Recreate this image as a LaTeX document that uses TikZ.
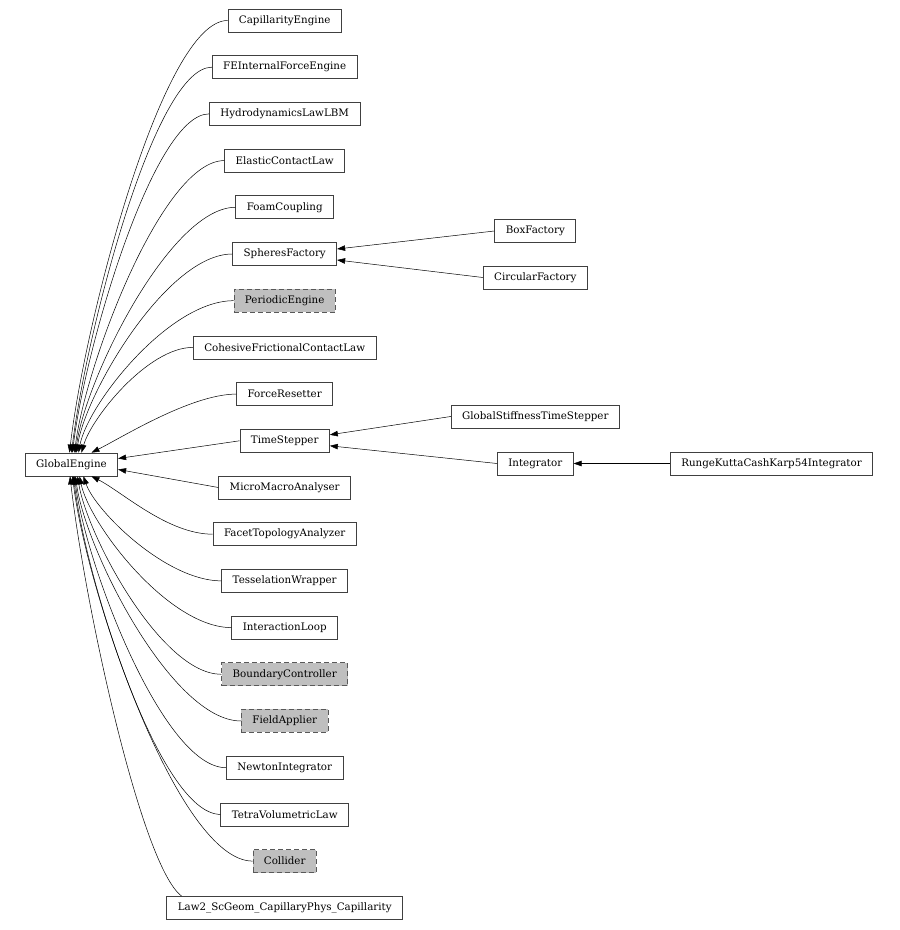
\documentclass[tikz,border=0pt]{standalone}
\usepackage{fontspec}
\setmainfont{DejaVu Serif}
\usetikzlibrary{arrows.meta}

\tikzset{
  cls/.style={draw=black!75, line width=0.7pt, minimum height=23pt, inner xsep=11pt, inner ysep=2pt, font=\fontsize{10.3}{12}\selectfont},
  undoc/.style={cls, dashed, dash pattern=on 5pt off 3pt, draw=black!65, fill=black!25},
  inh/.style={line width=0.5pt, -{Triangle[length=8pt,width=5.5pt]}}
}

\begin{document}
\begin{tikzpicture}[x=1pt,y=1pt]
  \useasboundingbox (0,0) rectangle (900,930);

  % base class
  \node[cls] (ge) at (71.5,465.5) {GlobalEngine};

  % direct subclasses, one per row
  \node[cls]   (cap)      at (284.7,909.5) {CapillarityEngine};
  \node[cls]   (fe)       at (284.7,862.8) {FEInternalForceEngine};
  \node[cls]   (hydro)    at (284.7,816.1) {HydrodynamicsLawLBM};
  \node[cls]   (elastic)  at (284.7,769.4) {ElasticContactLaw};
  \node[cls]   (foam)     at (284.7,722.7) {FoamCoupling};
  \node[cls]   (spheres)  at (284.7,676.0) {SpheresFactory};
  \node[undoc] (periodic) at (284.7,629.3) {PeriodicEngine};
  \node[cls]   (cohesive) at (284.7,582.6) {CohesiveFrictionalContactLaw};
  \node[cls]   (forceres) at (284.7,535.9) {ForceResetter};
  \node[cls]   (tstep)    at (284.7,489.2) {TimeStepper};
  \node[cls]   (micro)    at (284.7,442.5) {MicroMacroAnalyser};
  \node[cls]   (facet)    at (284.7,395.8) {FacetTopologyAnalyzer};
  \node[cls]   (tessel)   at (284.7,349.1) {TesselationWrapper};
  \node[cls]   (iloop)    at (284.7,302.4) {InteractionLoop};
  \node[undoc] (bcontrol) at (284.7,255.7) {BoundaryController};
  \node[undoc] (fieldapp) at (284.7,209.0) {FieldApplier};
  \node[cls]   (newton)   at (284.7,162.3) {NewtonIntegrator};
  \node[cls]   (tetra)    at (284.7,115.6) {TetraVolumetricLaw};
  \node[undoc] (collider) at (284.7,68.9)  {Collider};
  \node[cls]   (law2)     at (284.7,22.2)  {Law2\_ScGeom\_CapillaryPhys\_Capillarity};

  % second level
  \node[cls] (boxf)  at (535.3,699.0) {BoxFactory};
  \node[cls] (circf) at (535.3,652.5) {CircularFactory};
  \node[cls] (gsts)  at (535.3,513.5) {GlobalStiffnessTimeStepper};
  \node[cls] (integ) at (535.3,466.5) {Integrator};
  \node[cls] (rk54)  at (771.5,466.5) {RungeKuttaCashKarp54Integrator};

  % edges into GlobalEngine from above
  \draw[inh] (cap.west)      .. controls +(-65,0) and +(15,130) .. ([xshift=-2pt]ge.north);
  \draw[inh] (fe.west)       .. controls +(-58,0) and +(14,116) .. (ge.north);
  \draw[inh] (hydro.west)    .. controls +(-56,0) and +(12,102) .. ([xshift=1pt]ge.north);
  \draw[inh] (elastic.west)  .. controls +(-62,0) and +(11,88)  .. ([xshift=3pt]ge.north);
  \draw[inh] (foam.west)     .. controls +(-65,0) and +(10,74)  .. ([xshift=4pt]ge.north);
  \draw[inh] (spheres.west)  .. controls +(-65,0) and +(9,60)   .. ([xshift=5pt]ge.north);
  \draw[inh] (periodic.west) .. controls +(-65,0) and +(9,48)   .. ([xshift=7pt]ge.north);
  \draw[inh] (cohesive.west) .. controls +(-45,0) and +(10,35)  .. ([xshift=10pt]ge.north);
  \draw[inh] (forceres.west) .. controls +(-45,0) and +(30,15)  .. ([xshift=20pt]ge.north);

  % straight ones into the side
  \draw[inh] (tstep.west) -- ([yshift=6pt]ge.east);
  \draw[inh] (micro.west) -- ([yshift=-5pt]ge.east);

  % edges into GlobalEngine from below
  \draw[inh] (facet.west)    .. controls +(-45,0) and +(30,-15)  .. ([xshift=20pt]ge.south);
  \draw[inh] (tessel.west)   .. controls +(-55,0) and +(12,-35)  .. ([xshift=12pt]ge.south);
  \draw[inh] (iloop.west)    .. controls +(-63,0) and +(10,-48)  .. ([xshift=8pt]ge.south);
  \draw[inh] (bcontrol.west) .. controls +(-60,0) and +(10,-60)  .. ([xshift=6pt]ge.south);
  \draw[inh] (fieldapp.west) .. controls +(-69,0) and +(10,-74)  .. ([xshift=4pt]ge.south);
  \draw[inh] (newton.west)   .. controls +(-63,0) and +(11,-88)  .. ([xshift=3pt]ge.south);
  \draw[inh] (tetra.west)    .. controls +(-61,0) and +(12,-102) .. ([xshift=2pt]ge.south);
  \draw[inh] (collider.west) .. controls +(-74,0) and +(14,-116) .. ([xshift=1pt]ge.south);
  \draw[inh] ([xshift=15pt]law2.north west) .. controls +(-40,30) and +(15,-130) .. ([xshift=-1.5pt]ge.south);

  % second level edges
  \draw[inh] (boxf.west)  -- ([yshift=5pt]spheres.east);
  \draw[inh] (circf.west) -- ([yshift=-6pt]spheres.east);
  \draw[inh] (gsts.west)  -- ([yshift=6pt]tstep.east);
  \draw[inh] (integ.west) -- ([yshift=-5pt]tstep.east);
  \draw[inh] (rk54.west)  -- (integ.east);
\end{tikzpicture}
\end{document}
